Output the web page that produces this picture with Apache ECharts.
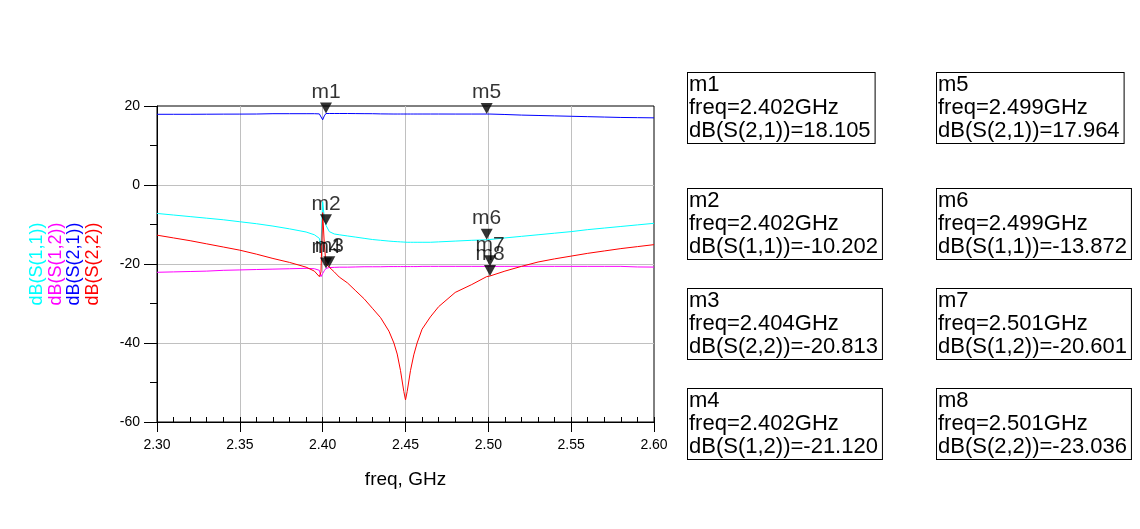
<!DOCTYPE html>
<html>
<head>
<meta charset="utf-8">
<script src="https://cdn.jsdelivr.net/npm/echarts@6/dist/echarts.min.js"></script>
<style>
html,body{margin:0;padding:0;background:#fff;}
#c{width:1140px;height:529px;}
</style>
</head>
<body>
<div id="c"></div>
<script>
// ---- data ----
const freq = [2.300,2.310,2.320,2.330,2.340,2.350,2.360,2.370,2.380,2.390,
  2.395,2.398,2.399,2.400,2.401,2.402,2.404,2.407,2.410,2.415,
  2.420,2.425,2.430,2.435,2.440,2.443,2.445,2.447,2.449,2.450,
  2.451,2.453,2.455,2.457,2.460,2.465,2.470,2.480,2.490,2.499,
  2.501,2.510,2.520,2.530,2.540,2.550,2.560,2.570,2.580,2.590,2.600];

const s11 = [-7.2,-7.6,-8.0,-8.4,-8.8,-9.3,-9.8,-10.4,-11.1,-11.9,
  -12.6,-13.5,-15.3,-4.2,-8.5,-10.202,-11.8,-12.4,-12.6,-12.9,
  -13.2,-13.5,-13.8,-14.0,-14.2,-14.3,-14.35,-14.4,-14.45,-14.5,
  -14.5,-14.5,-14.5,-14.5,-14.5,-14.5,-14.4,-14.2,-14.0,-13.872,
  -13.8,-13.4,-13.0,-12.6,-12.2,-11.8,-11.3,-10.9,-10.5,-10.1,-9.7];

const s12 = [-22.1,-22.0,-21.9,-21.8,-21.6,-21.5,-21.4,-21.3,-21.2,-21.1,
  -21.2,-21.6,-23.2,-22.4,-21.7,-21.12,-20.9,-20.85,-20.8,-20.8,
  -20.75,-20.7,-20.7,-20.7,-20.65,-20.65,-20.65,-20.65,-20.65,-20.65,
  -20.65,-20.65,-20.65,-20.65,-20.6,-20.6,-20.6,-20.6,-20.6,-20.6,
  -20.601,-20.6,-20.6,-20.6,-20.6,-20.6,-20.6,-20.6,-20.6,-20.75,-20.78];

const s21 = [17.9,17.9,17.9,17.92,17.94,17.95,17.97,18.05,18.05,18.05,
  18.05,18.0,17.5,16.5,17.5,18.105,18.1,18.1,18.1,18.1,
  18.08,18.06,18.05,18.0,17.98,17.97,17.97,17.97,17.97,17.97,
  17.97,17.97,17.97,17.97,17.97,17.97,17.97,17.96,17.96,17.964,
  17.96,17.85,17.7,17.6,17.5,17.4,17.3,17.2,17.1,17.05,17.0];

const s22 = [-12.7,-13.4,-14.1,-14.9,-15.7,-16.5,-17.5,-18.6,-19.6,-20.8,
  -21.8,-23.2,-22.0,-7.0,-15.0,-20.0,-20.813,-22.0,-23.3,-24.8,
  -26.8,-28.8,-31.2,-33.6,-37.0,-40.0,-42.8,-47.0,-52.3,-54.4,
  -52.3,-47.0,-43.0,-40.0,-36.5,-33.4,-30.8,-27.2,-25.2,-23.2,
  -23.036,-21.8,-20.6,-19.5,-18.7,-18.0,-17.3,-16.7,-16.1,-15.6,-15.1];

const seriesNames = ['dB(S(1,1))','dB(S(1,2))','dB(S(2,1))','dB(S(2,2))'];
const seriesColors = ['#00ffff','#ff00ff','#0000ff','#ff0000'];

// markers
const markerNames = ['m1','m2','m3','m4','m5','m6','m7','m8'];
const markerFreq  = [2.402,2.402,2.404,2.402,2.499,2.499,2.501,2.501];
const markerValue = [18.105,-10.202,-20.813,-21.120,17.964,-13.872,-20.601,-23.036];
const markerTrace = ['dB(S(2,1))','dB(S(1,1))','dB(S(2,2))','dB(S(1,2))','dB(S(2,1))','dB(S(1,1))','dB(S(1,2))','dB(S(2,2))'];

const xTicks = [2.30,2.35,2.40,2.45,2.50,2.55,2.60];

// ---- chart ----
const FONT = 'Liberation Sans, Arial, sans-serif';
const chart = echarts.init(document.getElementById('c'), null, {renderer:'canvas'});
const allY = [s11, s12, s21, s22];

const lineSeries = allY.map((arr, i) => ({
  name: seriesNames[i],
  type: 'line',
  data: freq.map((f, k) => [f, arr[k]]),
  showSymbol: false,
  symbol: 'none',
  lineStyle: {color: seriesColors[i], width: 1},
  itemStyle: {color: seriesColors[i]},
  animation: false,
  z: 3
}));

const markerSeries = {
  type: 'scatter',
  data: markerNames.map((n, i) => ({name: n, value: [markerFreq[i], markerValue[i]]})),
  symbol: 'triangle',
  symbolRotate: 180,
  symbolSize: [12, 11],
  symbolOffset: [0, -5.5],
  itemStyle: {color: '#000'},
  label: {
    show: true, position: 'top', distance: 0,
    formatter: p => p.name,
    color: '#000', fontSize: 21, fontFamily: FONT
  },
  animation: false,
  z: 10
};

// marker readout boxes
const boxLeft = [688, 688, 688, 688, 937, 937, 937, 937];
const boxTop = [73, 189, 289, 389, 73, 189, 289, 389];
const boxes = markerNames.map((n, i) => ({
  type: 'text',
  x: boxLeft[i], y: boxTop[i],
  style: {
    text: n + '\nfreq=' + markerFreq[i].toFixed(3) + 'GHz\n' + markerTrace[i] + '=' + markerValue[i].toFixed(3),
    fontSize: 22, fontFamily: FONT, fill: '#000',
    lineHeight: 23.33,
    align: 'left', verticalAlign: 'top',
    backgroundColor: '#fff', borderColor: '#000', borderWidth: 1,
    padding: [0, 4, 0, 1]
  }
}));

const yNameX = [37.5, 56, 74.5, 93];
const yNames = seriesNames.map((n, i) => ({
  type: 'text',
  x: yNameX[i], y: 264,
  rotation: Math.PI / 2,
  style: {
    text: n, fontSize: 18, fontFamily: FONT, fill: seriesColors[i],
    align: 'center', verticalAlign: 'middle'
  }
}));

const grid = {left: 157, top: 106, width: 497, height: 316, show: true, borderColor: '#000', borderWidth: 1, backgroundColor: '#fff'};

chart.setOption({
  backgroundColor: '#fff',
  animation: false,
  grid: grid,
  xAxis: [{
    type: 'value', min: 2.3, max: 2.6, interval: 0.05, position: 'bottom',
    name: 'freq, GHz', nameLocation: 'middle', nameGap: 48,
    nameTextStyle: {fontSize: 19, fontFamily: FONT, color: '#000'},
    axisLine: {show: true, onZero: false, lineStyle: {color: '#000', width: 1}},
    axisTick: {show: true, inside: false, length: 10, lineStyle: {color: '#000'}},
    axisLabel: {fontSize: 14, fontFamily: FONT, color: '#000', margin: 16,
      formatter: v => v.toFixed(2)},
    splitLine: {show: true, showMinLine: false, showMaxLine: false, lineStyle: {color: '#c0c0c0', width: 1}}
  }, {
    type: 'value', min: 2.3, max: 2.6, interval: 0.01, position: 'bottom',
    axisLine: {show: false, onZero: false},
    axisTick: {show: true, inside: true, length: 5, lineStyle: {color: '#000'}},
    axisLabel: {show: false},
    splitLine: {show: false}
  }],
  yAxis: [{
    type: 'value', min: -60, max: 20, interval: 20,
    axisLine: {show: true, onZero: false, lineStyle: {color: '#000', width: 1}},
    axisTick: {show: true, inside: false, length: 13, lineStyle: {color: '#000'}},
    minorTick: {show: true, splitNumber: 2, length: 7, lineStyle: {color: '#000'}},
    axisLabel: {fontSize: 14, fontFamily: FONT, color: '#000', margin: 17},
    splitLine: {show: true, showMinLine: false, showMaxLine: false, lineStyle: {color: '#c0c0c0', width: 1}}
  }],
  series: lineSeries.concat([markerSeries]),
  graphic: yNames.concat(boxes)
});
</script>
</body>
</html>
